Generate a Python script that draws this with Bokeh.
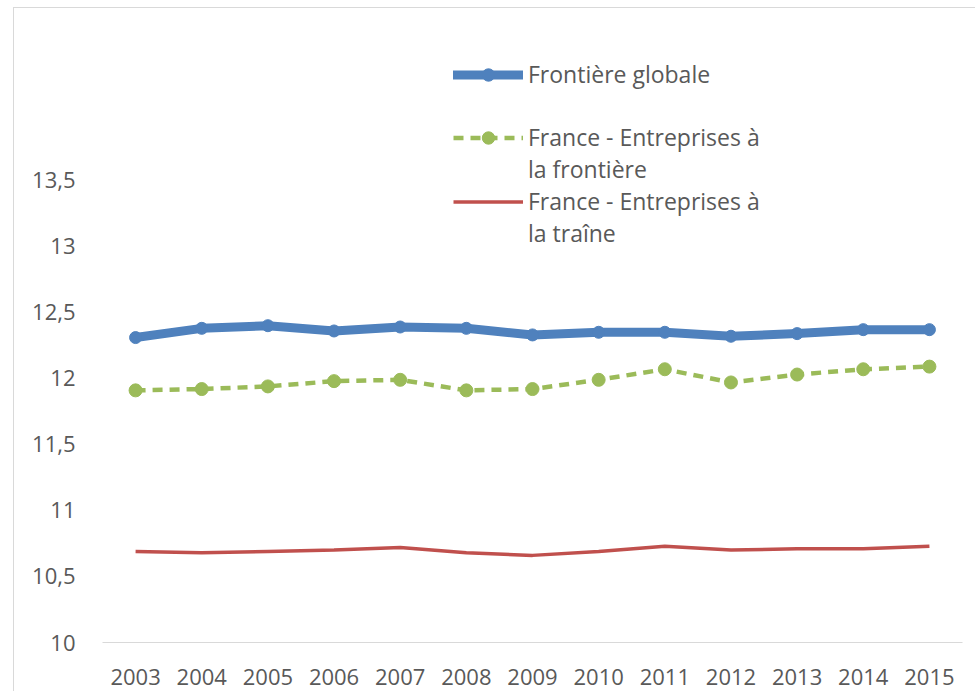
from bokeh.plotting import figure
from bokeh.models import Range1d, FixedTicker, Legend, LegendItem, ColumnDataSource, CustomJSTickFormatter
from bokeh.embed import file_html
from bokeh.resources import INLINE

years = [str(y) for y in range(2003, 2016)]
frontiere_globale = [12.31, 12.38, 12.40, 12.36, 12.39, 12.38, 12.33, 12.35, 12.35, 12.32, 12.34, 12.37, 12.37]
france_frontiere = [11.91, 11.92, 11.94, 11.98, 11.99, 11.91, 11.92, 11.99, 12.07, 11.97, 12.03, 12.07, 12.09]
france_traine = [10.69, 10.68, 10.69, 10.70, 10.72, 10.68, 10.66, 10.69, 10.73, 10.70, 10.71, 10.71, 10.73]
y_ticks = [10, 10.5, 11, 11.5, 12, 12.5, 13, 13.5]

FONT = "Open Sans"
TXT = "#595959"

src = ColumnDataSource(dict(x=years, a=frontiere_globale, b=france_frontiere, c=france_traine))

p = figure(width=962, height=684, x_range=years, y_range=Range1d(10, 14.712),
           output_backend="svg", toolbar_location=None,
           min_border_left=88, min_border_right=14, min_border_top=12, min_border_bottom=50)
p.styles = {"border-left": "1px solid #d9d9d9", "border-top": "1px solid #d9d9d9",
            "margin-left": "13px", "margin-top": "7px"}
p.outline_line_color = None
p.xgrid.grid_line_color = None
p.ygrid.grid_line_color = None
p.x_range.range_padding = 0

BLUE = "#4F81BD"
GREEN = "#9BBB59"
RED = "#C0504D"

r1 = p.line("x", "a", source=src, line_color=BLUE, line_width=9, line_join="round", line_cap="round")
r1m = p.scatter("x", "a", source=src, size=12, fill_color=BLUE, line_color=BLUE)
r2 = p.line("x", "b", source=src, line_color=GREEN, line_width=4.5, line_dash="10 7")
r2m = p.scatter("x", "b", source=src, size=13, fill_color=GREEN, line_color=GREEN)
r3 = p.line("x", "c", source=src, line_color=RED, line_width=3.5)

empty = ColumnDataSource(dict(x=[], y=[]))
d = [p.line("x", "y", source=empty, line_alpha=0) for _ in range(4)]

p.yaxis.ticker = FixedTicker(ticks=y_ticks)
p.yaxis.formatter = CustomJSTickFormatter(code="return tick.toString().replace('.', ',');")
p.yaxis.axis_line_color = None
p.yaxis.major_tick_line_color = None
p.yaxis.minor_tick_line_color = None
p.yaxis.major_label_standoff = 21
p.yaxis.major_label_text_font = FONT
p.yaxis.major_label_text_font_size = "22px"
p.yaxis.major_label_text_color = TXT

p.xaxis.axis_line_color = "#d9d9d9"
p.xaxis.axis_line_width = 1
p.xaxis.major_tick_line_color = None
p.xaxis.minor_tick_line_color = None
p.xaxis.major_label_standoff = 20
p.xaxis.major_label_text_font = FONT
p.xaxis.major_label_text_font_size = "22px"
p.xaxis.major_label_text_color = TXT

legend = Legend(items=[
    LegendItem(label="Frontière globale", renderers=[r1, r1m]),
    LegendItem(label=" ", renderers=[d[0]]),
    LegendItem(label="France - Entreprises à", renderers=[r2, r2m]),
    LegendItem(label="la frontière", renderers=[d[1]]),
    LegendItem(label="France - Entreprises à", renderers=[r3]),
    LegendItem(label="la traîne", renderers=[d[2]]),
], location=(351, 393), orientation="vertical")
legend.padding = 0
legend.margin = 0
legend.spacing = 0
legend.label_height = 31
legend.glyph_height = 31
legend.glyph_width = 70
legend.label_standoff = 5
legend.border_line_alpha = 0
legend.background_fill_alpha = 0
legend.label_text_font = FONT
legend.label_text_font_size = "23px"
legend.label_text_color = TXT
p.add_layout(legend, "center")

open("out.html", "w").write(file_html(p, INLINE))
